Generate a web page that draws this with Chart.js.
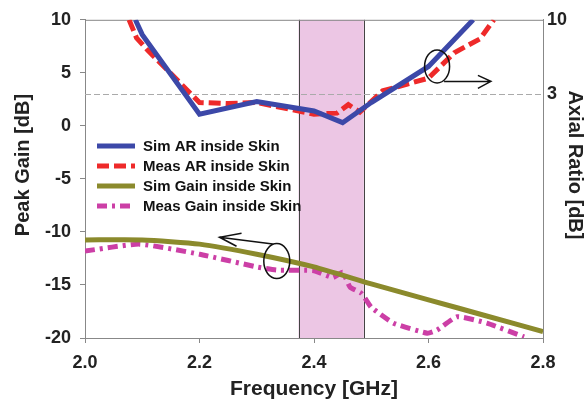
<!DOCTYPE html>
<html>
<head>
<meta charset="utf-8">
<script src="https://cdn.jsdelivr.net/npm/chart.js@4.4.0/dist/chart.umd.min.js"></script>
<style>
  html, body { margin: 0; padding: 0; background: #fff; }
</style>
</head>
<body>
<canvas id="arChart" width="587" height="405"></canvas>
<script>
// data
const simArFreq = [2.088, 2.1, 2.2, 2.3, 2.4, 2.45, 2.5, 2.6, 2.678];
const simAr = [10, 8.6, 1.1, 2.3, 1.4, 0.3, 2.2, 5.6, 10];

const measArFreq = [2.077, 2.09, 2.11, 2.2, 2.25, 2.3, 2.4, 2.44, 2.46, 2.48, 2.52, 2.6, 2.645, 2.69, 2.714];
const measAr = [10, 8.3, 7.1, 2.2, 2.1, 2.2, 1.1, 1.2, 2.0, 1.3, 3.3, 4.5, 6.9, 8.2, 10];

const simGainFreq = [2.0, 2.1, 2.2, 2.3, 2.4, 2.5, 2.6, 2.7, 2.8];
const simGain = [-10.75, -10.75, -11.15, -12.1, -13.3, -14.9, -16.4, -17.9, -19.4];

const measGainFreq = [2.0, 2.095, 2.2, 2.3, 2.335, 2.4, 2.433, 2.45, 2.463, 2.483, 2.5, 2.539, 2.598, 2.615, 2.65, 2.702, 2.767];
const measGain = [-11.8, -11.15, -12.1, -13.3, -13.6, -13.65, -14.3, -13.8, -15.2, -15.8, -17.1, -18.6, -19.55, -19.25, -18.0, -18.6, -19.9];

const freqTicks = [2.0, 2.2, 2.4, 2.6, 2.8];
const gainTicks = [-20, -15, -10, -5, 0, 5, 10];
const arTicks = [3, 10];
const arLimit = 3;              // 3 dB axial ratio line
const band = [2.373, 2.487];    // shaded band

const pts = (xs, ys) => xs.map((x, i) => ({ x: x, y: ys[i] }));

const FAMILY = "'Liberation Sans', Arial, sans-serif";
const boldFont = (size) => ({ family: FAMILY, size: size, weight: 'bold' });

function sideTitle(ctx, text, x, y, angle) {
  ctx.save();
  ctx.font = 'bold 20px ' + FAMILY;
  ctx.fillStyle = '#222';
  ctx.textAlign = 'center';
  ctx.textBaseline = 'middle';
  ctx.translate(x, y);
  ctx.rotate(angle);
  ctx.fillText(text, 0, 0);
  ctx.restore();
}

// band, 3 dB line, frame, circles with arrows, legend and side titles
const decor = {
  id: 'decor',
  beforeDatasetsDraw(chart) {
    const { ctx, chartArea: a, scales } = chart;
    const x = scales.x, y = scales.y;
    ctx.save();
    const bx0 = x.getPixelForValue(band[0]), bx1 = x.getPixelForValue(band[1]);
    ctx.fillStyle = '#ecc6e4';
    ctx.fillRect(bx0, a.top, bx1 - bx0, a.bottom - a.top);
    ctx.strokeStyle = '#444';
    ctx.lineWidth = 1;
    ctx.beginPath();
    ctx.moveTo(Math.round(bx0) + 0.5, a.top);
    ctx.lineTo(Math.round(bx0) + 0.5, a.bottom);
    ctx.moveTo(Math.round(bx1) + 0.5, a.top);
    ctx.lineTo(Math.round(bx1) + 0.5, a.bottom);
    ctx.stroke();

    const ly = Math.round(y.getPixelForValue(arLimit)) + 0.5;
    ctx.strokeStyle = '#aaa';
    ctx.setLineDash([6, 3]);
    ctx.beginPath();
    ctx.moveTo(a.left, ly);
    ctx.lineTo(a.right, ly);
    ctx.stroke();
    ctx.setLineDash([]);

    ctx.strokeStyle = '#888';
    ctx.beginPath();
    ctx.moveTo(a.left, a.top + 0.5);
    ctx.lineTo(a.right, a.top + 0.5);
    ctx.stroke();
    ctx.restore();
  },
  afterDatasetsDraw(chart) {
    const { ctx, scales } = chart;
    const x = scales.x, y = scales.y;
    ctx.save();
    ctx.strokeStyle = '#111';
    ctx.lineWidth = 1.5;

    // right pointing one (AR)
    let cx = x.getPixelForValue(2.615), cy = y.getPixelForValue(5.6);
    ctx.beginPath();
    ctx.ellipse(cx, cy, 12.5, 16.5, 0, 0, Math.PI * 2);
    ctx.stroke();
    let tx = x.getPixelForValue(2.709), ty = y.getPixelForValue(4.2);
    ctx.beginPath();
    ctx.moveTo(cx + 7, cy + 15);
    ctx.lineTo(tx, ty);
    ctx.moveTo(tx - 13, ty - 6);
    ctx.lineTo(tx, ty);
    ctx.lineTo(tx - 13, ty + 7);
    ctx.stroke();

    // left pointing one (gain)
    cx = x.getPixelForValue(2.335); cy = y.getPixelForValue(-12.75);
    ctx.beginPath();
    ctx.ellipse(cx, cy, 13, 17.5, 0, 0, Math.PI * 2);
    ctx.stroke();
    tx = x.getPixelForValue(2.235); ty = y.getPixelForValue(-10.5);
    ctx.beginPath();
    ctx.moveTo(cx - 4, cy - 17);
    ctx.lineTo(tx, ty);
    ctx.moveTo(tx + 22, ty - 4);
    ctx.lineTo(tx, ty);
    ctx.lineTo(tx + 17, ty + 9);
    ctx.stroke();

    // legend
    const rows = [146, 166, 186, 206];
    ctx.font = 'bold 15px ' + FAMILY;
    ctx.textBaseline = 'middle';
    ctx.fillStyle = '#111';
    chart.data.datasets.forEach((ds, i) => {
      ctx.save();
      ctx.strokeStyle = ds.borderColor;
      ctx.lineWidth = ds.borderWidth;
      ctx.setLineDash(ds.borderDash || []);
      ctx.beginPath();
      ctx.moveTo(97, rows[i]);
      ctx.lineTo(135, rows[i]);
      ctx.stroke();
      ctx.restore();
      ctx.fillText(ds.label, 143, rows[i] + 1);
    });
    ctx.restore();
  },
  afterDraw(chart) {
    sideTitle(chart.ctx, 'Peak Gain [dB]', 23, 165, -Math.PI / 2);
    sideTitle(chart.ctx, 'Axial Ratio [dB]', 575, 165, Math.PI / 2);
  }
};

const ctx = document.getElementById('arChart');
new Chart(ctx, {
  type: 'line',
  data: {
    datasets: [
      {
        label: 'Sim AR inside Skin',
        data: pts(simArFreq, simAr),
        borderColor: '#3c48a8',
        borderWidth: 5,
        tension: 0
      },
      {
        label: 'Meas AR inside Skin',
        data: pts(measArFreq, measAr),
        borderColor: '#ee2a2a',
        borderWidth: 5,
        borderDash: [12, 5],
        tension: 0
      },
      {
        label: 'Sim Gain inside Skin',
        data: pts(simGainFreq, simGain),
        borderColor: '#8b8a2c',
        borderWidth: 5,
        tension: 0.2
      },
      {
        label: 'Meas Gain inside Skin',
        data: pts(measGainFreq, measGain),
        borderColor: '#cc3fa6',
        borderWidth: 5,
        borderDash: [10, 5, 3, 5],
        tension: 0.15
      }
    ]
  },
  options: {
    responsive: false,
    animation: false,
    layout: { padding: { top: 18, left: 0, right: 0, bottom: 0 } },
    elements: { point: { radius: 0 } },
    plugins: {
      legend: { display: false },
      tooltip: { enabled: false }
    },
    scales: {
      x: {
        type: 'linear',
        position: 'bottom',
        min: 2.0,
        max: 2.8,
        afterBuildTicks: (s) => { s.ticks = freqTicks.map(v => ({ value: v })); },
        afterFit: (s) => { s.height = 67; },
        ticks: {
          callback: (v) => v.toFixed(1),
          font: boldFont(18),
          color: '#222',
          padding: 9,
          maxRotation: 0
        },
        grid: { drawOnChartArea: false, drawTicks: true, tickLength: 5, color: '#888' },
        border: { color: '#888' },
        title: {
          display: true,
          text: 'Frequency [GHz]',
          font: boldFont(21),
          color: '#222',
          padding: { top: 0, bottom: 3 }
        }
      },
      y: {
        position: 'left',
        min: -20,
        max: 10,
        afterBuildTicks: (s) => { s.ticks = gainTicks.map(v => ({ value: v })); },
        afterFit: (s) => { s.width = 85; },
        ticks: { font: boldFont(18), color: '#222', padding: 9 },
        grid: { drawOnChartArea: false, drawTicks: true, tickLength: 5, color: '#888' },
        border: { color: '#888' }
      },
      y2: {
        position: 'right',
        min: -20,
        max: 10,
        afterBuildTicks: (s) => { s.ticks = arTicks.map(v => ({ value: v })); },
        afterFit: (s) => { s.width = 44; },
        ticks: { font: boldFont(18), color: '#222', padding: 4 },
        grid: { display: false, drawTicks: false },
        border: { color: '#888' }
      }
    }
  },
  plugins: [decor]
});
</script>
</body>
</html>
